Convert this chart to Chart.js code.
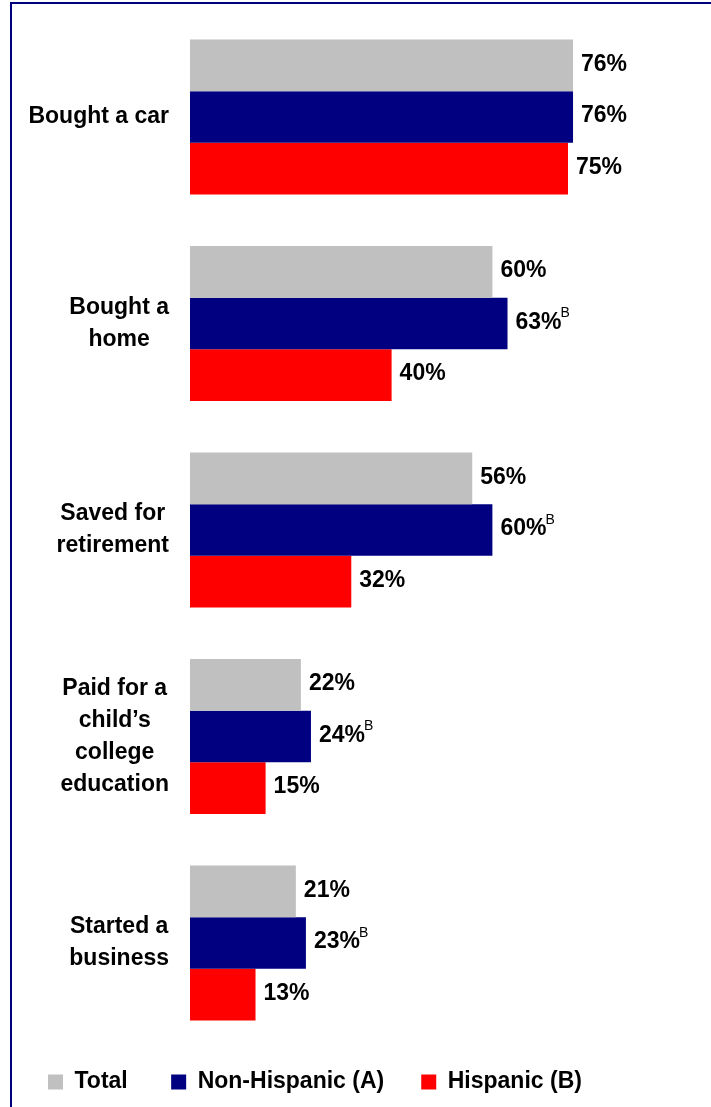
<!DOCTYPE html>
<html lang="en">
<head>
    <meta charset="UTF-8">
    <title>Financial milestones</title>
    <style>
        body {
            margin: 0;
            background: #fff;
        }

        /* thin navy rule along the top and left edge */
        .frame {
            position: absolute;
            left: 10px;
            top: 2px;
            width: 701px;
            height: 1105px;
            box-sizing: border-box;
            border-top: 2px solid #000080;
            border-left: 2px solid #000080;
        }

        #milestoneChart {
            position: absolute;
            left: 0;
            top: 0;
        }
    </style>
</head>
<body>
    <div class="frame"></div>
    <canvas id="milestoneChart" width="711" height="1107"></canvas>

    <script src="https://cdn.jsdelivr.net/npm/chart.js"></script>
    <script>
        // Chart data
        const categories = [
            ['Bought a car'],
            ['Bought a', 'home'],
            ['Saved for', 'retirement'],
            ['Paid for a', 'child\u2019s', 'college', 'education'],
            ['Started a', 'business']
        ];
        const seriesNames = ['Total', 'Non-Hispanic (A)', 'Hispanic (B)'];
        const totalValues = [76, 60, 56, 22, 21];
        const nonHispanicValues = [76, 63, 60, 24, 23];
        const hispanicValues = [75, 40, 32, 15, 13];
        // significance letter printed after the Non-Hispanic values
        const nonHispanicMarks = ['', 'B', 'B', 'B', 'B'];
        const valueAxis = { min: 0, max: 100 };

        const FONT = '"Liberation Sans", Arial, sans-serif';
        Chart.defaults.font.family = FONT;
        Chart.defaults.color = '#000';

        // Category names, each block centred on itself and pushed against the bars
        const categoryLabels = {
            id: 'categoryLabels',
            afterDraw(chart) {
                const ctx = chart.ctx;
                const yScale = chart.scales.y;
                ctx.save();
                ctx.font = 'bold 23px ' + FONT;
                ctx.fillStyle = '#000';
                ctx.textAlign = 'center';
                ctx.textBaseline = 'middle';
                categories.forEach((lines, i) => {
                    const widest = Math.max(...lines.map(l => ctx.measureText(l).width));
                    const cx = chart.chartArea.left - 21 - widest / 2;
                    const cy = yScale.getPixelForValue(i);
                    lines.forEach((line, j) => {
                        ctx.fillText(line, cx, cy + (j - (lines.length - 1) / 2) * 32);
                    });
                });
                ctx.restore();
            }
        };

        // Percent labels at the end of each bar
        const valueLabels = {
            id: 'valueLabels',
            afterDatasetsDraw(chart) {
                const ctx = chart.ctx;
                ctx.save();
                ctx.fillStyle = '#000';
                ctx.textAlign = 'left';
                ctx.textBaseline = 'middle';
                chart.data.datasets.forEach((ds, d) => {
                    chart.getDatasetMeta(d).data.forEach((bar, i) => {
                        const text = ds.data[i] + '%';
                        const x = bar.x + 8;
                        const y = bar.y - 1;
                        ctx.font = 'bold 23px ' + FONT;
                        ctx.fillText(text, x, y);
                        if (d === 1 && nonHispanicMarks[i]) {
                            const w = ctx.measureText(text).width;
                            ctx.font = '14px ' + FONT;
                            ctx.fillText(nonHispanicMarks[i], x + w - 1, y - 9);
                        }
                    });
                });
                ctx.restore();
            }
        };

        new Chart(document.getElementById('milestoneChart'), {
            type: 'bar',
            data: {
                labels: categories,
                datasets: [
                    { label: seriesNames[0], data: totalValues, backgroundColor: '#C0C0C0' },
                    { label: seriesNames[1], data: nonHispanicValues, backgroundColor: '#000080' },
                    { label: seriesNames[2], data: hispanicValues, backgroundColor: '#FF0000' }
                ]
            },
            options: {
                indexAxis: 'y',
                responsive: false,
                animation: false,
                layout: {
                    padding: { left: 23.75, right: 17, top: 13.75, bottom: 3.5 }
                },
                datasets: {
                    bar: { categoryPercentage: 0.75, barPercentage: 1, borderWidth: 0 }
                },
                scales: {
                    x: { display: false, min: valueAxis.min, max: valueAxis.max },
                    y: {
                        grid: { display: false },
                        border: { display: false },
                        ticks: { display: false },
                        afterFit(scale) {
                            scale.width = 166.25;
                        }
                    }
                },
                plugins: {
                    legend: {
                        position: 'bottom',
                        align: 'start',
                        labels: {
                            boxWidth: 15,
                            boxHeight: 15,
                            padding: 24.25,
                            color: '#000',
                            font: { size: 23, weight: 'bold' },
                            generateLabels(chart) {
                                const items = Chart.defaults.plugins.legend.labels.generateLabels(chart);
                                // extra room between the legend entries
                                items.forEach((item, i) => {
                                    if (i === 0) item.text += '\u00a0\u00a0\u00a0';
                                    if (i === 1) item.text += '\u00a0\u00a0';
                                });
                                return items;
                            }
                        }
                    },
                    tooltip: { enabled: false }
                }
            },
            plugins: [categoryLabels, valueLabels]
        });
    </script>
</body>
</html>
